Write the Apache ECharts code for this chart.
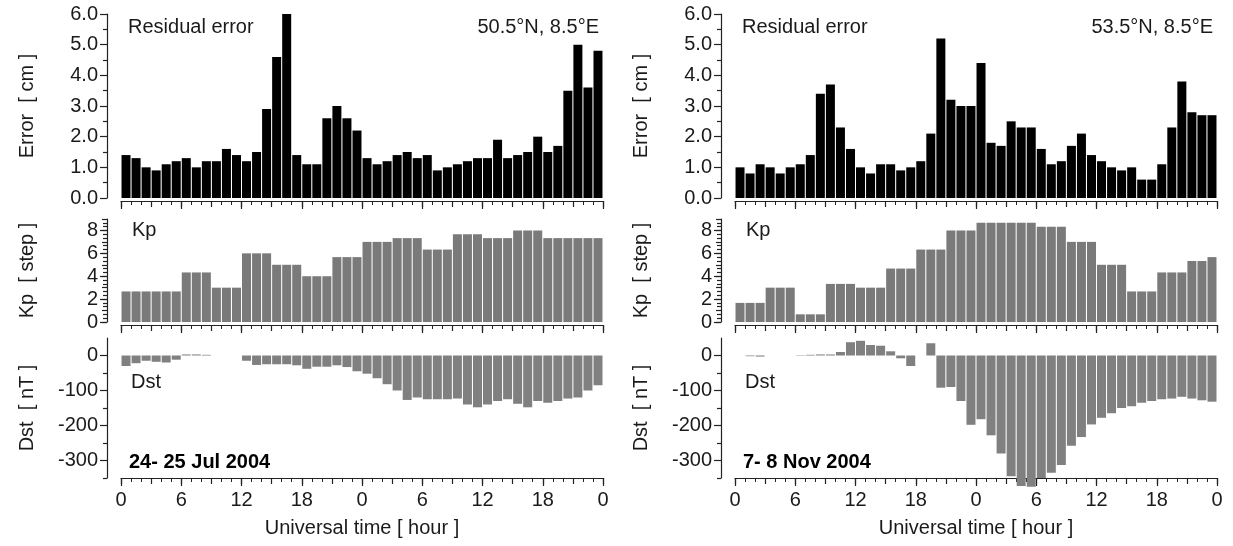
<!DOCTYPE html>
<html>
<head>
<meta charset="utf-8">
<script src="https://cdn.jsdelivr.net/npm/echarts@6/dist/echarts.min.js"></script>
<style>
html,body{margin:0;padding:0;background:#fff;}
#chart{width:1233px;height:546px;}
</style>
</head>
<body>
<div id="chart"></div>
<script>
// ---------- data ----------
var hourTicks = [0, 6, 12, 18, 24, 30, 36, 42, 48];
var errorJul = [1.4, 1.3, 1.0, 0.9, 1.1, 1.2, 1.3, 1.0, 1.2, 1.2, 1.6, 1.4, 1.2, 1.5, 2.9, 4.6, 6.2, 1.4, 1.1, 1.1, 2.6, 3.0, 2.6, 2.2,
                1.3, 1.1, 1.2, 1.4, 1.5, 1.3, 1.4, 0.9, 1.0, 1.1, 1.2, 1.3, 1.3, 1.9, 1.3, 1.4, 1.5, 2.0, 1.5, 1.7, 3.5, 5.0, 3.6, 4.8];
var errorNov = [1.0, 0.8, 1.1, 1.0, 0.8, 1.0, 1.1, 1.4, 3.4, 3.7, 2.3, 1.6, 1.0, 0.8, 1.1, 1.1, 0.9, 1.0, 1.2, 2.1, 5.2, 3.2, 3.0, 3.0,
                4.4, 1.8, 1.7, 2.5, 2.3, 2.3, 1.6, 1.1, 1.2, 1.7, 2.1, 1.4, 1.2, 1.0, 0.9, 1.0, 0.6, 0.6, 1.1, 2.3, 3.8, 2.8, 2.7, 2.7];
var kpJul = [2.67, 2.67, 2.67, 2.67, 2.67, 2.67, 4.33, 4.33, 4.33, 3.0, 3.0, 3.0, 6.0, 6.0, 6.0, 5.0, 5.0, 5.0, 4.0, 4.0, 4.0, 5.67, 5.67, 5.67,
             7.0, 7.0, 7.0, 7.33, 7.33, 7.33, 6.33, 6.33, 6.33, 7.67, 7.67, 7.67, 7.33, 7.33, 7.33, 8.0, 8.0, 8.0, 7.33, 7.33, 7.33, 7.33, 7.33, 7.33];
var kpNov = [1.67, 1.67, 1.67, 3.0, 3.0, 3.0, 0.67, 0.67, 0.67, 3.33, 3.33, 3.33, 3.0, 3.0, 3.0, 4.67, 4.67, 4.67, 6.33, 6.33, 6.33, 8.0, 8.0, 8.0,
             8.67, 8.67, 8.67, 8.67, 8.67, 8.67, 8.33, 8.33, 8.33, 7.0, 7.0, 7.0, 5.0, 5.0, 5.0, 2.67, 2.67, 2.67, 4.33, 4.33, 4.33, 5.33, 5.33, 5.67];
var dstJul = [-30, -22, -15, -18, -20, -12, 3, 3, 2, null, null, null, -15, -27, -25, -25, -25, -28, -38, -32, -32, -28, -33, -45,
              -52, -65, -82, -100, -127, -120, -125, -125, -125, -123, -140, -148, -140, -130, -125, -138, -148, -130, -135, -130, -123, -120, -100, -85];
var dstNov = [null, -2, -3, null, null, null, 1, 2, 3, 3, 10, 38, 42, 30, 28, 12, -8, -30, null, 35, -92, -90, -130, -198,
              -182, -228, -280, -345, -373, -375, -350, -335, -313, -258, -233, -197, -178, -165, -150, -145, -135, -130, -125, -123, -118, -123, -128, -132];
var dstLabelTicks = [-300, -200, -100, 0];
var dstMinorTicks = [-350, -250, -150, -50];
var panelTexts = {
  title: 'Residual error',
  loc: ['50.5°N, 8.5°E', '53.5°N, 8.5°E'],
  date: ['24- 25 Jul 2004', '7- 8 Nov 2004']
};

// ---------- layout ----------
var FONT = '"Liberation Sans", Arial, sans-serif';
var TXT = '#1a1a1a';
var panelLeft = [121, 735];
var panelW = 482;
var rows = [
  {top: 14, height: 184},   // error
  {top: 219, height: 103},  // kp
  {top: 338, height: 140}   // dst
];

function hourPairs(arr) {
  return arr.map(function (v, i) { return [i + 0.5, v]; });
}

var grid = [], xAxis = [], yAxis = [], series = [];
var lineStyle = {color: '#222', width: 1.2};

for (var p = 0; p < 2; p++) {
  for (var r = 0; r < 3; r++) {
    var gi = grid.length;
    grid.push({left: panelLeft[p], width: panelW, top: rows[r].top, height: rows[r].height});
    var isBottom = (r === 2);
    xAxis.push({
      type: 'value', gridIndex: gi, min: 0, max: 48, interval: 6,
      position: 'bottom', offset: r === 2 ? 0 : 3,
      axisLine: {show: true, onZero: false, lineStyle: lineStyle},
      axisTick: {show: true, inside: false, length: 8, lineStyle: lineStyle},
      minorTick: {show: true, splitNumber: 6, length: 4, lineStyle: {color: '#222', width: 1}},
      splitLine: {show: false},
      axisLabel: {show: isBottom, fontSize: 20, fontFamily: FONT, color: TXT, margin: 12,
        formatter: function (v) { return String(v % 24); }},
      name: isBottom ? 'Universal time [ hour ]' : '',
      nameLocation: 'middle', nameGap: 40,
      nameTextStyle: {fontSize: 20, fontFamily: FONT, color: TXT}
    });
    xAxis.push({
      type: 'value', gridIndex: gi, min: 0, max: 48, interval: 3,
      position: 'bottom', offset: r === 2 ? 0 : 3,
      axisLine: {show: false, onZero: false},
      axisTick: {show: true, length: 6, lineStyle: lineStyle},
      axisLabel: {show: false}, splitLine: {show: false}
    });
    var xi = xAxis.length - 2;
    var yBase = {
      gridIndex: gi, type: 'value', position: 'left', offset: 14,
      axisLine: {show: true, onZero: false, lineStyle: lineStyle},
      splitLine: {show: false},
      nameLocation: 'middle', nameRotate: 90,
      nameTextStyle: {fontSize: 20, fontFamily: FONT, color: TXT}
    };
    var labelStyle = {fontSize: 20, fontFamily: FONT, color: TXT, margin: 9};
    if (r === 0) {
      yAxis.push(Object.assign({}, yBase, {
        min: 0, max: 6, interval: 1,
        axisTick: {show: true, length: 7, lineStyle: lineStyle},
        minorTick: {show: true, splitNumber: 2, length: 4, lineStyle: lineStyle},
        axisLabel: Object.assign({}, labelStyle, {formatter: function (v) { return v.toFixed(1); }}),
        name: 'Error  [ cm ]', nameGap: 70
      }));
      series.push({type: 'bar', xAxisIndex: xi, yAxisIndex: yAxis.length - 1,
        data: hourPairs(p === 0 ? errorJul : errorNov), barWidth: 9,
        itemStyle: {color: '#000'}, silent: true, animation: false});
    } else if (r === 1) {
      yAxis.push(Object.assign({}, yBase, {
        min: 0, max: 9, interval: 2,
        axisTick: {show: true, length: 7, lineStyle: lineStyle},
        axisLabel: labelStyle,
        name: 'Kp  [ step ]', nameGap: 70
      }));
      var kpY = yAxis.length - 1;
      yAxis.push(Object.assign({}, yBase, {
        min: 0, max: 9, interval: 1, name: '',
        axisLine: {show: false, onZero: false},
        axisTick: {show: true, length: 5, lineStyle: lineStyle},
        minorTick: {show: true, splitNumber: 3, length: 4, lineStyle: lineStyle},
        axisLabel: {show: false}
      }));
      series.push({type: 'bar', xAxisIndex: xi, yAxisIndex: kpY,
        data: hourPairs(p === 0 ? kpJul : kpNov), barWidth: 9,
        itemStyle: {color: '#7a7a7a'}, silent: true, animation: false});
    } else {
      yAxis.push(Object.assign({}, yBase, {
        min: -350, max: 50, interval: 50,
        axisTick: {show: true, length: 7, lineStyle: lineStyle, customValues: dstLabelTicks},
        axisLabel: Object.assign({}, labelStyle, {customValues: dstLabelTicks}),
        name: 'Dst  [ nT ]', nameGap: 70
      }));
      var dY = yAxis.length - 1;
      yAxis.push(Object.assign({}, yBase, {
        min: -350, max: 50, interval: 50, name: '',
        axisLine: {show: false, onZero: false},
        axisTick: {show: true, length: 4, lineStyle: lineStyle, customValues: dstMinorTicks},
        axisLabel: {show: false}
      }));
      series.push({type: 'bar', xAxisIndex: xi, yAxisIndex: dY,
        data: hourPairs(p === 0 ? dstJul : dstNov), barWidth: 9,
        itemStyle: {color: '#808080'}, silent: true, animation: false, clip: false});
    }
  }
}

var graphic = [];
for (var q = 0; q < 2; q++) {
  var L = panelLeft[q];
  graphic.push({type: 'text', left: L + 7, top: 17, style: {text: panelTexts.title, font: '20px ' + FONT, fill: TXT}});
  graphic.push({type: 'text', right: 1233 - (L + panelW) + 4, top: 17, style: {text: panelTexts.loc[q], font: '20px ' + FONT, fill: TXT}});
  graphic.push({type: 'text', left: L + 11, top: 220, style: {text: 'Kp', font: '20px ' + FONT, fill: TXT}});
  graphic.push({type: 'text', left: L + 10, top: 372, style: {text: 'Dst', font: '20px ' + FONT, fill: TXT}});
  graphic.push({type: 'text', left: L + 8, top: 452, style: {text: panelTexts.date[q], font: 'bold 20px ' + FONT, fill: '#000'}});
}

var chart = echarts.init(document.getElementById('chart'), null, {renderer: 'canvas'});
chart.setOption({
  animation: false,
  backgroundColor: '#fff',
  grid: grid, xAxis: xAxis, yAxis: yAxis, series: series, graphic: graphic
});
</script>
</body>
</html>
